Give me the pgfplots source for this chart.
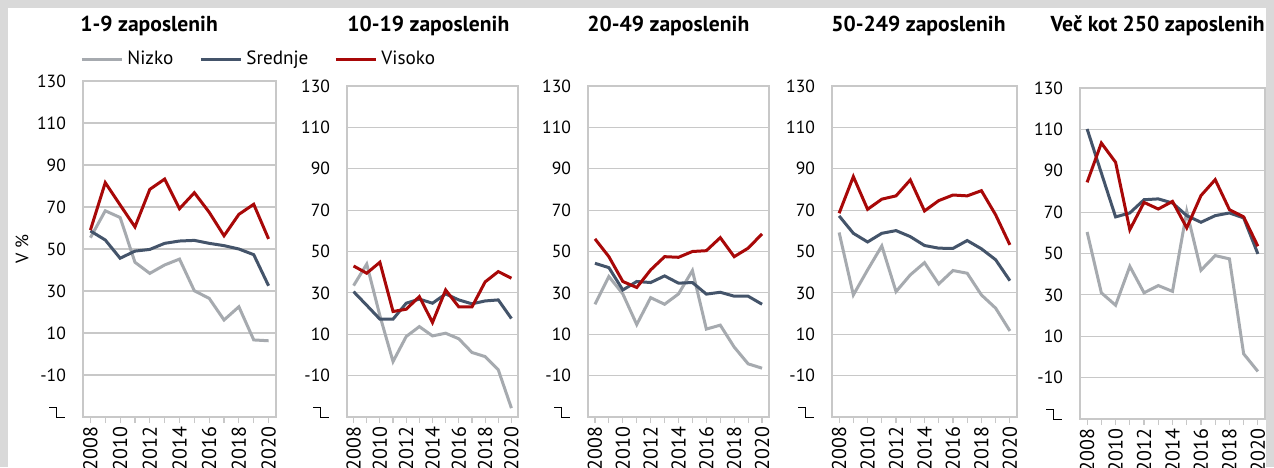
\documentclass[border=0pt]{standalone}
\usepackage{pgfplots}
\pgfplotsset{compat=1.18}
\usepackage{pgfplotstable}
\usepackage{fontspec}
\setmainfont{PT Sans}

\definecolor{bgc}{RGB}{217,217,217}
\definecolor{gridc}{RGB}{200,200,200}
\definecolor{nizc}{RGB}{166,170,175}
\definecolor{sredc}{RGB}{68,84,106}
\definecolor{visc}{RGB}{168,8,8}

\newcommand{\glyph}{\tikz{\path (0,-5pt) (8pt,5pt);\draw[line width=0.6pt,black] (0,5pt)--(3.5pt,5pt)--(3.5pt,0)--(8pt,0);}}

\pgfplotstableread{
year n s v
2008 55.4 58.6 59.0
2009 68.2 54.3 81.6
2010 65.0 45.6 71.0
2011 43.7 49.0 60.5
2012 38.4 49.8 78.4
2013 42.4 52.7 83.3
2014 45.2 53.8 69.2
2015 30.1 54.1 76.8
2016 26.5 52.7 67.5
2017 16.2 51.6 56.3
2018 22.5 50.0 66.5
2019 6.7 47.3 71.3
2020 6.3 32.5 54.8
}\Pone
\pgfplotstableread{
year n s v
2008 33.5 30.6 43.0
2009 43.9 24.0 39.5
2010 19.0 17.3 44.8
2011 -3.2 17.3 21.0
2012 8.9 25.0 22.1
2013 13.7 27.0 28.2
2014 9.2 25.0 15.7
2015 10.5 29.5 31.4
2016 7.8 26.6 23.2
2017 1.2 24.7 23.2
2018 -0.8 26.1 35.3
2019 -7.2 26.6 40.3
2020 -25.7 17.6 37.1
}\Ptwo
\pgfplotstableread{
year n s v
2008 24.5 44.3 56.1
2009 37.9 42.2 47.5
2010 29.5 31.4 35.5
2011 14.7 35.5 32.6
2012 27.7 35.0 41.1
2013 24.5 38.2 47.5
2014 29.5 34.7 47.2
2015 40.8 35.0 50.0
2016 12.5 29.4 50.4
2017 14.4 30.3 56.7
2018 3.8 28.4 47.5
2019 -4.3 28.4 51.6
2020 -6.4 24.5 58.5
}\Pthree
\pgfplotstableread{
year n s v
2008 59.2 67.2 68.5
2009 29.0 58.8 86.2
2010 41.1 54.6 70.4
2011 52.7 58.8 75.3
2012 30.6 60.1 76.9
2013 38.7 57.2 84.6
2014 44.6 52.9 69.6
2015 34.3 51.6 74.6
2016 40.8 51.5 77.3
2017 39.5 55.3 76.9
2018 29.0 51.3 79.4
2019 22.6 46.0 67.7
2020 11.6 35.9 53.2
}\Pfour
\pgfplotstableread{
year n s v
2008 60.4 110.2 84.4
2009 31.0 88.9 103.4
2010 25.0 67.7 94.1
2011 43.8 69.6 61.5
2012 31.0 76.0 74.7
2013 34.5 76.4 71.5
2014 31.7 74.4 75.2
2015 70.4 68.3 62.4
2016 41.9 65.1 78.0
2017 49.0 68.3 85.7
2018 47.4 69.6 71.2
2019 1.5 67.2 67.7
2020 -7.0 49.8 53.5
}\Pfive

\pgfplotsset{
  panel/.style={
    scale only axis,
    anchor=south west,
    xmin=2007.5, xmax=2020.5, ymin=-30, ymax=130,
    ytick={-30,-10,...,130},
    yticklabels={\glyph,-10,10,30,50,70,90,110,130},
    xtick={2008,2010,...,2020},
    xticklabels={2008,2010,2012,2014,2016,2018,2020},
    minor xtick={2009,2011,...,2019},
    ymajorgrids,
    major grid style={draw=gridc, line width=0.6pt},
    axis line style={draw=gridc, line width=0.6pt},
    y tick style={draw=none},
    x tick style={draw=gridc, line width=0.6pt},
    xtick align=outside,
    major tick length=3pt, minor tick length=3pt,
    xtick pos=left, ytick pos=left,
    xticklabel style={rotate=90, anchor=east, font=\fontsize{10}{12}\selectfont, inner sep=1.5pt},
    yticklabel style={font=\fontsize{8.8}{10}\selectfont, xshift=-5pt},
  },
  niz/.style={draw=nizc, line width=1.5pt, no markers},
  sred/.style={draw=sredc, line width=1.5pt, no markers},
  vis/.style={draw=visc, line width=1.5pt, no markers},
}

\begin{document}
\begin{tikzpicture}
\useasboundingbox (0,0) rectangle (637pt,233.5pt);
\clip (0,0) rectangle (637pt,233.5pt);
\fill[bgc] (0,0) rectangle (637pt,233.5pt);
\fill[white] (4pt,0) rectangle (633pt,229.5pt);

\begin{axis}[panel, at={(41.5pt,25pt)}, width=96.5pt, height=168pt,
  ylabel={V \%}, ylabel style={at={(axis description cs:-0.316,0.5)}, anchor=center, font=\fontsize{9}{10}\selectfont},
  legend columns=3,
  legend style={at={(axis description cs:0,1)}, anchor=west, yshift=11pt, xshift=-1.5pt, draw=none, fill=none,
    font=\fontsize{9.6}{11}\selectfont, inner sep=0pt,
    /tikz/every even column/.append style={column sep=11pt}},
  legend image code/.code={\draw[#1] (0pt,0pt)--(20pt,0pt);},
  ]
\addplot[niz] table[x=year,y=n]{\Pone};
\addplot[sred] table[x=year,y=s]{\Pone};
\addplot[vis] table[x=year,y=v]{\Pone};
\addlegendentry{Nizko}
\addlegendentry{Srednje}
\addlegendentry{Visoko}
\end{axis}

\begin{axis}[panel, at={(173.5pt,25pt)}, width=85.5pt, height=165.5pt]
\addplot[niz] table[x=year,y=n]{\Ptwo};
\addplot[sred] table[x=year,y=s]{\Ptwo};
\addplot[vis] table[x=year,y=v]{\Ptwo};
\end{axis}

\begin{axis}[panel, at={(294pt,25pt)}, width=90.5pt, height=165.5pt]
\addplot[niz] table[x=year,y=n]{\Pthree};
\addplot[sred] table[x=year,y=s]{\Pthree};
\addplot[vis] table[x=year,y=v]{\Pthree};
\end{axis}

\begin{axis}[panel, at={(416pt,25pt)}, width=92.5pt, height=165.5pt]
\addplot[niz] table[x=year,y=n]{\Pfour};
\addplot[sred] table[x=year,y=s]{\Pfour};
\addplot[vis] table[x=year,y=v]{\Pfour};
\end{axis}

\begin{axis}[panel, at={(540pt,24pt)}, width=92.5pt, height=165.5pt]
\addplot[niz] table[x=year,y=n]{\Pfive};
\addplot[sred] table[x=year,y=s]{\Pfive};
\addplot[vis] table[x=year,y=v]{\Pfive};
\end{axis}

\begin{scope}[every node/.style={inner sep=0pt, font=\bfseries\fontsize{10.8}{12}\selectfont}]
\node[anchor=west] at (40pt,220.5pt) {1-9 zaposlenih};
\node[anchor=west] at (173.5pt,220.5pt) {10-19 zaposlenih};
\node[anchor=west] at (293.5pt,220.5pt) {20-49 zaposlenih};
\node[anchor=west] at (415.5pt,220.5pt) {50-249 zaposlenih};
\node[anchor=east] at (632.5pt,220.5pt) {Več kot 250 zaposlenih};
\end{scope}
\end{tikzpicture}
\end{document}
